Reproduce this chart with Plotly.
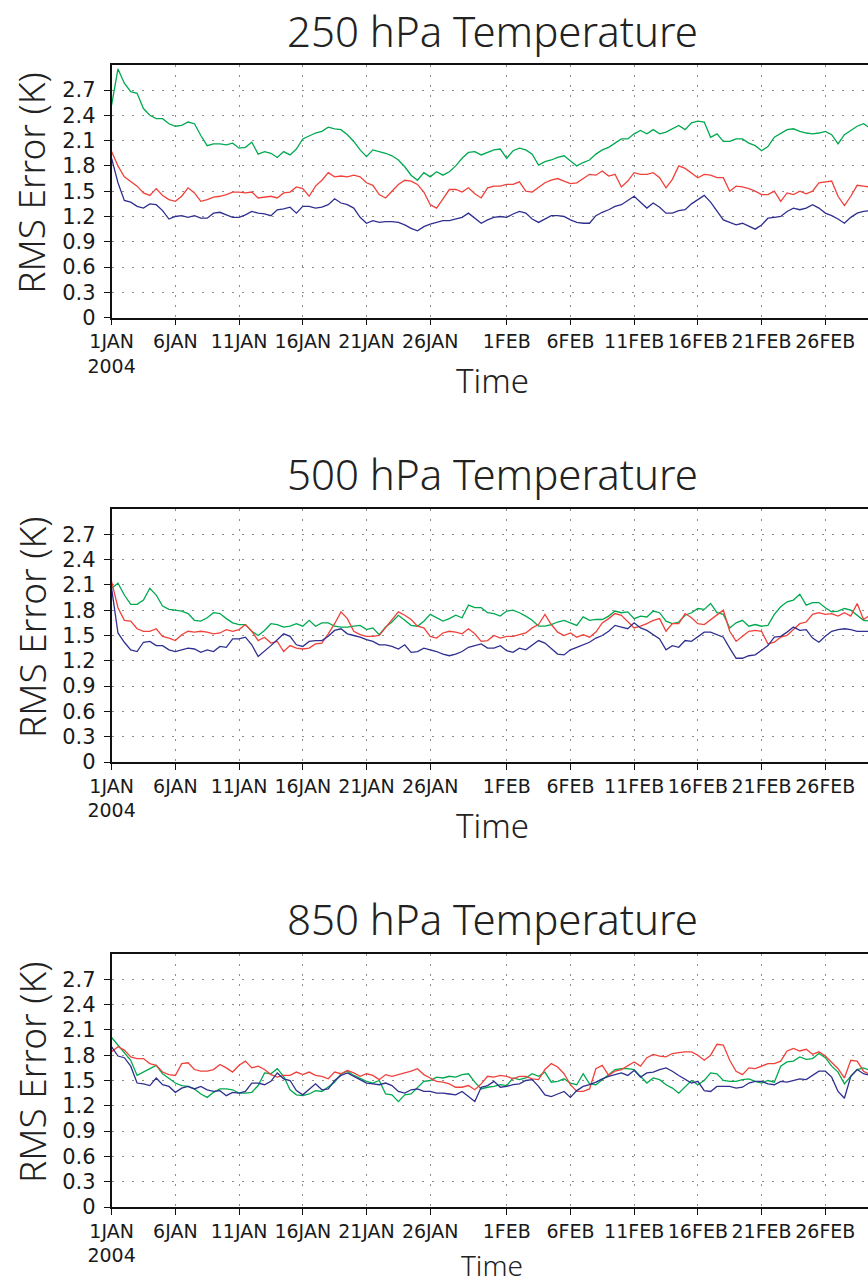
import pandas as pd
import plotly.graph_objects as go

# ---------------- data (12-hourly, from 1 Jan 2004) ----------------
times = pd.date_range("2004-01-01", periods=120, freq="12h")

tick_dates = ["2004-01-01", "2004-01-06", "2004-01-11", "2004-01-16", "2004-01-21", "2004-01-26",
              "2004-02-01", "2004-02-06", "2004-02-11", "2004-02-16", "2004-02-21", "2004-02-26"]
tick_labels = ["1JAN<br>2004", "6JAN", "11JAN", "16JAN", "21JAN", "26JAN",
               "1FEB", "6FEB", "11FEB", "16FEB", "21FEB", "26FEB"]
y_ticks = [0, 0.3, 0.6, 0.9, 1.2, 1.5, 1.8, 2.1, 2.4, 2.7]
y_labels = ["0", "0.3", "0.6", "0.9", "1.2", "1.5", "1.8", "2.1", "2.4", "2.7"]

titles = ["250 hPa Temperature", "500 hPa Temperature", "850 hPa Temperature"]

t250_green = [2.52, 2.95, 2.78, 2.68, 2.66, 2.48, 2.40, 2.36, 2.36, 2.30,
              2.27, 2.28, 2.32, 2.30, 2.16, 2.04, 2.06, 2.06, 2.05, 2.07,
              2.01, 2.02, 2.08, 1.94, 1.97, 1.95, 1.90, 1.97, 1.93, 2.00,
              2.12, 2.16, 2.19, 2.21, 2.26, 2.24, 2.23, 2.17, 2.09, 1.99,
              1.91, 1.99, 1.97, 1.95, 1.92, 1.87, 1.79, 1.69, 1.63, 1.72,
              1.67, 1.73, 1.69, 1.73, 1.80, 1.89, 1.96, 1.97, 1.93, 1.96,
              1.99, 2.00, 1.89, 1.98, 2.01, 1.99, 1.94, 1.81, 1.85, 1.87,
              1.90, 1.92, 1.86, 1.80, 1.84, 1.87, 1.94, 1.99, 2.02, 2.07,
              2.12, 2.12, 2.18, 2.22, 2.18, 2.23, 2.18, 2.20, 2.24, 2.28,
              2.23, 2.31, 2.33, 2.32, 2.14, 2.18, 2.09, 2.09, 2.12, 2.12,
              2.07, 2.04, 1.98, 2.03, 2.14, 2.19, 2.23, 2.24, 2.21, 2.19,
              2.18, 2.19, 2.21, 2.17, 2.06, 2.17, 2.22, 2.27, 2.30, 2.25]
t250_red = [1.97, 1.80, 1.67, 1.61, 1.56, 1.48, 1.45, 1.53, 1.45, 1.40,
            1.38, 1.44, 1.54, 1.48, 1.38, 1.40, 1.43, 1.44, 1.46, 1.49,
            1.49, 1.48, 1.49, 1.42, 1.43, 1.44, 1.42, 1.48, 1.49, 1.55,
            1.53, 1.44, 1.56, 1.63, 1.72, 1.67, 1.68, 1.67, 1.69, 1.67,
            1.60, 1.57, 1.46, 1.42, 1.50, 1.58, 1.63, 1.62, 1.58, 1.49,
            1.34, 1.30, 1.41, 1.52, 1.52, 1.49, 1.54, 1.47, 1.42, 1.54,
            1.56, 1.56, 1.58, 1.58, 1.61, 1.50, 1.49, 1.55, 1.60, 1.63,
            1.65, 1.62, 1.59, 1.60, 1.65, 1.70, 1.69, 1.74, 1.68, 1.70,
            1.55, 1.62, 1.72, 1.70, 1.70, 1.72, 1.66, 1.54, 1.64, 1.80,
            1.77, 1.72, 1.66, 1.70, 1.69, 1.66, 1.66, 1.50, 1.56, 1.55,
            1.53, 1.50, 1.46, 1.46, 1.50, 1.38, 1.48, 1.46, 1.50, 1.47,
            1.50, 1.60, 1.61, 1.62, 1.44, 1.33, 1.44, 1.57, 1.56, 1.55]
t250_blue = [1.89, 1.60, 1.39, 1.37, 1.32, 1.30, 1.35, 1.34, 1.27, 1.17,
             1.20, 1.21, 1.19, 1.21, 1.18, 1.18, 1.24, 1.25, 1.22, 1.19,
             1.19, 1.22, 1.26, 1.24, 1.23, 1.21, 1.28, 1.29, 1.31, 1.24,
             1.32, 1.32, 1.30, 1.31, 1.34, 1.41, 1.36, 1.34, 1.30, 1.19,
             1.12, 1.15, 1.13, 1.14, 1.14, 1.13, 1.10, 1.06, 1.03, 1.08,
             1.11, 1.13, 1.15, 1.15, 1.17, 1.19, 1.24, 1.18, 1.12, 1.16,
             1.19, 1.20, 1.19, 1.23, 1.26, 1.24, 1.17, 1.13, 1.17, 1.21,
             1.21, 1.20, 1.16, 1.13, 1.12, 1.12, 1.21, 1.25, 1.28, 1.32,
             1.34, 1.39, 1.44, 1.37, 1.30, 1.36, 1.31, 1.24, 1.24, 1.27,
             1.28, 1.35, 1.40, 1.45, 1.37, 1.26, 1.16, 1.13, 1.10, 1.12,
             1.08, 1.05, 1.10, 1.18, 1.19, 1.20, 1.26, 1.30, 1.28, 1.30,
             1.34, 1.30, 1.24, 1.21, 1.17, 1.12, 1.19, 1.24, 1.26, 1.27]

t500_green = [2.06, 2.12, 1.98, 1.87, 1.87, 1.92, 2.06, 1.98, 1.85, 1.81,
              1.80, 1.79, 1.76, 1.68, 1.67, 1.71, 1.77, 1.76, 1.70, 1.65,
              1.63, 1.63, 1.55, 1.50, 1.56, 1.64, 1.63, 1.60, 1.61, 1.64,
              1.61, 1.68, 1.61, 1.65, 1.65, 1.61, 1.60, 1.60, 1.61, 1.62,
              1.57, 1.59, 1.51, 1.60, 1.66, 1.74, 1.68, 1.62, 1.61, 1.67,
              1.75, 1.71, 1.67, 1.70, 1.74, 1.71, 1.86, 1.83, 1.83, 1.77,
              1.76, 1.73, 1.79, 1.80, 1.77, 1.73, 1.68, 1.61, 1.61, 1.63,
              1.66, 1.68, 1.65, 1.62, 1.72, 1.68, 1.69, 1.69, 1.73, 1.79,
              1.77, 1.78, 1.70, 1.73, 1.72, 1.79, 1.77, 1.67, 1.64, 1.66,
              1.74, 1.77, 1.82, 1.81, 1.88, 1.77, 1.75, 1.59, 1.65, 1.68,
              1.61, 1.63, 1.61, 1.62, 1.75, 1.84, 1.90, 1.92, 1.99, 1.86,
              1.89, 1.89, 1.83, 1.78, 1.79, 1.82, 1.80, 1.74, 1.68, 1.67]
t500_red = [2.14, 1.83, 1.68, 1.67, 1.58, 1.55, 1.55, 1.58, 1.49, 1.47,
            1.44, 1.51, 1.55, 1.54, 1.55, 1.54, 1.52, 1.53, 1.57, 1.55,
            1.57, 1.63, 1.55, 1.44, 1.48, 1.41, 1.43, 1.31, 1.38, 1.35,
            1.34, 1.35, 1.40, 1.41, 1.52, 1.64, 1.78, 1.70, 1.55, 1.51,
            1.49, 1.49, 1.50, 1.59, 1.69, 1.78, 1.74, 1.69, 1.61, 1.59,
            1.49, 1.47, 1.53, 1.55, 1.54, 1.52, 1.58, 1.52, 1.43, 1.44,
            1.50, 1.47, 1.49, 1.49, 1.51, 1.53, 1.59, 1.63, 1.75, 1.63,
            1.54, 1.50, 1.53, 1.48, 1.51, 1.48, 1.54, 1.65, 1.70, 1.76,
            1.74, 1.66, 1.59, 1.61, 1.64, 1.68, 1.70, 1.55, 1.64, 1.64,
            1.76, 1.71, 1.64, 1.63, 1.69, 1.74, 1.80, 1.55, 1.43, 1.49,
            1.55, 1.56, 1.55, 1.40, 1.42, 1.48, 1.50, 1.57, 1.64, 1.66,
            1.75, 1.77, 1.75, 1.76, 1.73, 1.77, 1.73, 1.88, 1.69, 1.74]
t500_blue = [2.06, 1.53, 1.42, 1.33, 1.31, 1.42, 1.43, 1.38, 1.38, 1.33,
             1.31, 1.33, 1.35, 1.34, 1.30, 1.33, 1.31, 1.37, 1.36, 1.46,
             1.46, 1.48, 1.39, 1.25, 1.31, 1.38, 1.45, 1.52, 1.49, 1.39,
             1.37, 1.43, 1.44, 1.44, 1.49, 1.56, 1.58, 1.52, 1.50, 1.48,
             1.45, 1.43, 1.39, 1.39, 1.37, 1.34, 1.39, 1.30, 1.31, 1.35,
             1.33, 1.31, 1.28, 1.26, 1.28, 1.31, 1.36, 1.38, 1.40, 1.35,
             1.35, 1.38, 1.32, 1.30, 1.35, 1.33, 1.38, 1.44, 1.41, 1.35,
             1.28, 1.27, 1.33, 1.36, 1.39, 1.42, 1.47, 1.50, 1.55, 1.62,
             1.60, 1.58, 1.65, 1.59, 1.56, 1.51, 1.46, 1.33, 1.38, 1.36,
             1.44, 1.43, 1.49, 1.54, 1.54, 1.51, 1.48, 1.35, 1.23, 1.23,
             1.26, 1.27, 1.33, 1.38, 1.48, 1.49, 1.54, 1.60, 1.56, 1.57,
             1.47, 1.42, 1.49, 1.55, 1.57, 1.58, 1.57, 1.55, 1.55, 1.55]

t850_green = [2.01, 1.92, 1.84, 1.74, 1.56, 1.60, 1.63, 1.68, 1.58, 1.52,
              1.47, 1.44, 1.43, 1.40, 1.34, 1.30, 1.36, 1.40, 1.40, 1.39,
              1.35, 1.35, 1.36, 1.44, 1.59, 1.58, 1.64, 1.55, 1.39, 1.33,
              1.32, 1.34, 1.38, 1.37, 1.42, 1.48, 1.58, 1.61, 1.56, 1.52,
              1.49, 1.47, 1.50, 1.34, 1.33, 1.25, 1.33, 1.34, 1.42, 1.49,
              1.50, 1.54, 1.53, 1.55, 1.54, 1.57, 1.58, 1.48, 1.40, 1.42,
              1.43, 1.45, 1.44, 1.53, 1.51, 1.53, 1.58, 1.55, 1.60, 1.48,
              1.49, 1.52, 1.47, 1.45, 1.58, 1.46, 1.45, 1.51, 1.56, 1.63,
              1.64, 1.64, 1.63, 1.55, 1.47, 1.53, 1.51, 1.45, 1.41, 1.35,
              1.42, 1.50, 1.45, 1.50, 1.59, 1.58, 1.50, 1.49, 1.49, 1.51,
              1.52, 1.49, 1.47, 1.50, 1.48, 1.67, 1.72, 1.73, 1.78, 1.75,
              1.76, 1.82, 1.77, 1.67, 1.60, 1.46, 1.55, 1.63, 1.65, 1.62]
t850_red = [1.84, 1.90, 1.86, 1.78, 1.76, 1.76, 1.70, 1.68, 1.60, 1.57,
            1.56, 1.70, 1.71, 1.63, 1.61, 1.61, 1.63, 1.69, 1.65, 1.60,
            1.68, 1.73, 1.65, 1.67, 1.63, 1.57, 1.54, 1.56, 1.56, 1.60,
            1.57, 1.60, 1.56, 1.55, 1.52, 1.60, 1.58, 1.62, 1.59, 1.55,
            1.58, 1.56, 1.51, 1.57, 1.55, 1.57, 1.59, 1.61, 1.64, 1.57,
            1.53, 1.49, 1.48, 1.46, 1.42, 1.42, 1.44, 1.39, 1.46, 1.55,
            1.54, 1.56, 1.55, 1.52, 1.55, 1.55, 1.52, 1.51, 1.63, 1.70,
            1.66, 1.58, 1.45, 1.37, 1.37, 1.40, 1.64, 1.68, 1.56, 1.61,
            1.63, 1.68, 1.72, 1.67, 1.77, 1.81, 1.79, 1.78, 1.82, 1.83,
            1.84, 1.84, 1.80, 1.74, 1.80, 1.93, 1.92, 1.74, 1.61, 1.57,
            1.65, 1.64, 1.67, 1.70, 1.70, 1.73, 1.85, 1.88, 1.85, 1.87,
            1.81, 1.84, 1.79, 1.72, 1.64, 1.53, 1.74, 1.73, 1.61, 1.57]
t850_blue = [1.90, 1.79, 1.77, 1.67, 1.47, 1.46, 1.44, 1.53, 1.45, 1.43,
             1.36, 1.41, 1.43, 1.40, 1.43, 1.39, 1.37, 1.38, 1.32, 1.36,
             1.35, 1.37, 1.47, 1.47, 1.45, 1.49, 1.59, 1.52, 1.50, 1.38,
             1.33, 1.39, 1.46, 1.39, 1.40, 1.50, 1.56, 1.59, 1.55, 1.51,
             1.47, 1.46, 1.45, 1.47, 1.44, 1.37, 1.35, 1.39, 1.40, 1.37,
             1.37, 1.35, 1.35, 1.34, 1.33, 1.37, 1.31, 1.25, 1.42, 1.44,
             1.49, 1.42, 1.43, 1.45, 1.46, 1.50, 1.51, 1.43, 1.33, 1.31,
             1.34, 1.37, 1.30, 1.38, 1.43, 1.45, 1.48, 1.52, 1.55, 1.57,
             1.59, 1.56, 1.62, 1.54, 1.59, 1.60, 1.63, 1.65, 1.61, 1.56,
             1.52, 1.47, 1.49, 1.38, 1.37, 1.43, 1.43, 1.43, 1.41, 1.42,
             1.47, 1.49, 1.49, 1.46, 1.45, 1.49, 1.48, 1.50, 1.52, 1.51,
             1.56, 1.61, 1.61, 1.54, 1.37, 1.29, 1.55, 1.63, 1.58, 1.56]

panels = [
    [t250_green, t250_red, t250_blue],
    [t500_green, t500_red, t500_blue],
    [t850_green, t850_red, t850_blue],
]

# ---------------- styling ----------------
W, H = 868, 1284
colors = ["#00a94f", "#f0413a", "#2f2f8f"]
FONT = "DejaVu Sans"
TFONT = "Noto Sans"
TXT = "#1a1a1a"

plot_left = 111.6
plot_tops = [64.7, 509.0, 954.0]
plot_h = 253.0
title_offsets = [34, 36, 36]
time_offsets = [63, 63, 58]
time_sizes = [33, 33, 28]

fig = go.Figure()
annotations = []
for i, series in enumerate(panels):
    n = "" if i == 0 else str(i + 1)
    for s, c in zip(series, colors):
        fig.add_trace(go.Scatter(x=times, y=s, mode="lines",
                                 line=dict(color=c, width=1.3),
                                 xaxis="x" + n, yaxis="y" + n,
                                 showlegend=False, hoverinfo="skip"))
    top = plot_tops[i]
    bot = top + plot_h
    dom_y = [1 - bot / H, 1 - top / H]
    fig.layout["xaxis" + n] = dict(
        domain=[plot_left / W, 1], anchor="y" + n, automargin=False,
        range=["2004-01-01", "2004-02-29 08:24"],
        tickvals=tick_dates, ticktext=tick_labels, tickangle=0,
        ticks="outside", ticklen=6, tickwidth=1.2, tickcolor="#111",
        showline=True, linecolor="#111", linewidth=1.5, mirror=True,
        showgrid=True, gridcolor="#8c8c8c", gridwidth=1, griddash="2px,8px",
        zeroline=False,
        tickfont=dict(family=FONT, size=19, color=TXT),
    )
    fig.layout["yaxis" + n] = dict(
        domain=dom_y, anchor="x" + n, range=[0, 3.0], automargin=False,
        tickvals=y_ticks, ticktext=y_labels,
        ticks="outside", ticklen=6, tickwidth=1.2, tickcolor="#111",
        ticklabelstandoff=4,
        showline=True, linecolor="#111", linewidth=1.5, mirror=False,
        showgrid=True, gridcolor="#8c8c8c", gridwidth=1, griddash="2px,8px",
        zeroline=False,
        tickfont=dict(family=FONT, size=21, color=TXT),
    )
    # panel title
    annotations.append(dict(text=titles[i], x=492 / W, y=1 - (top - title_offsets[i]) / H,
                            xref="paper", yref="paper", xanchor="center", yanchor="middle",
                            showarrow=False,
                            font=dict(family=TFONT, size=42, color="#222", weight=300)))
    # y title
    annotations.append(dict(text="RMS Error (K)", x=31 / W, y=1 - (top + 118) / H,
                            xref="paper", yref="paper", xanchor="center", yanchor="middle",
                            textangle=-90, showarrow=False,
                            font=dict(family=TFONT, size=37, color="#222", weight=300)))
    # x title
    annotations.append(dict(text="Time", x=492 / W, y=1 - (bot + time_offsets[i]) / H,
                            xref="paper", yref="paper", xanchor="center", yanchor="middle",
                            showarrow=False,
                            font=dict(family=TFONT, size=time_sizes[i], color="#222", weight=300)))

fig.update_layout(
    width=W, height=H,
    margin=dict(l=0, r=0, t=0, b=0, autoexpand=False),
    paper_bgcolor="white", plot_bgcolor="white",
    annotations=annotations,
    showlegend=False,
)

fig.write_html("out.html")
